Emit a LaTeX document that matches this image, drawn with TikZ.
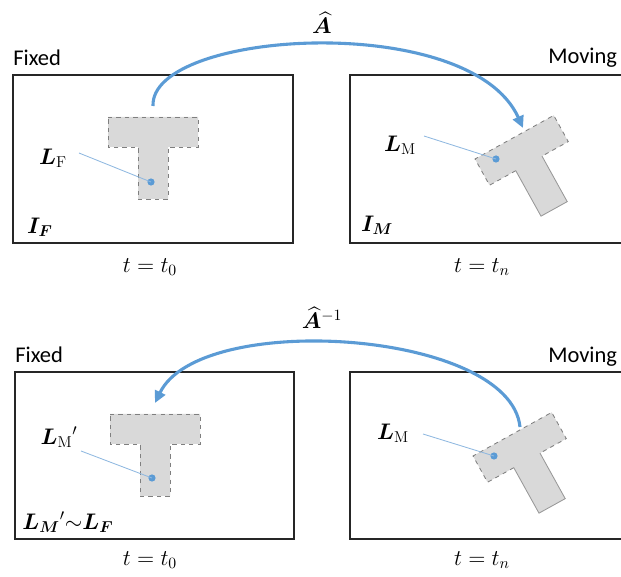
\documentclass[tikz,border=0pt]{standalone}
\usepackage{fix-cm}
\usepackage{amsmath,amssymb,bm}
\usepackage{fontspec}
\newfontfamily\labelfont{Carlito}
\usetikzlibrary{arrows.meta,positioning,calc}
\definecolor{ArcBlue}{HTML}{5B9BD5}
\definecolor{LeaderBlue}{HTML}{8FB8E0}
\definecolor{ShapeGray}{HTML}{D9D9D9}
\definecolor{EdgeGray}{HTML}{7F7F7F}
\newcommand{\fsz}{\fontsize{16}{19}\selectfont}

\tikzset{
  frame/.style={draw=black!85, line width=1.1pt, inner sep=0pt, anchor=north west},
  tshape/.style={fill=ShapeGray, draw=EdgeGray, dashed, line width=0.6pt},
  lmdot/.style={circle, fill=ArcBlue, inner sep=0pt, minimum size=1.8mm},
  leader/.style={LeaderBlue, line width=0.6pt},
  warp/.style={-{Triangle[length=3mm,width=2.8mm]}, ArcBlue, line width=2.2pt},
  tag/.style={font=\labelfont\fsz, inner sep=0pt},
  mlab/.style={font=\fsz, inner sep=0pt},
  tee/.pic={\path[tshape] (0,0) -- (90,0) -- (90,30) -- (60,30) -- (60,82)
      -- (30,82) -- (30,30) -- (0,30) -- cycle;},
  teetilt/.pic={
    \fill[ShapeGray] (0,0) -- (90,0) -- (90,30) -- (60,30) -- (60,82)
      -- (30,82) -- (30,30) -- (0,30) -- cycle;
    \draw[EdgeGray, dashed, line width=0.6pt] (30,30) -- (0,30) -- (0,0)
      -- (90,0) -- (90,30) -- (60,30);
    \draw[EdgeGray!80, line width=0.6pt] (60,30) -- (60,82) -- (30,82) -- (30,30);}
}

\begin{document}
\begin{tikzpicture}[x=0.025cm, y=-0.025cm]
  \useasboundingbox (0,0) rectangle (621,577);
  \clip (0,0) rectangle (621,577);

  % forward transform
  \node[frame, minimum width=7cm, minimum height=4.2cm] (imgF) at (12,74) {};
  \node[frame, minimum width=7.5cm, minimum height=4.2cm] (imgM) at (349,74) {};
  \node[tag, anchor=west] (fixA) at (13,58) {Fixed};
  \node[tag, anchor=west] (movA) at (548,58) {Moving};

  \pic at (108,117) {tee};
  \pic[shift={(475,159)}, rotate=29] {teetilt};

  \node[lmdot] (dotF) at (151,182) {};
  \node[lmdot] (dotM) at (496,159) {};
  \node[mlab] (lblF) at (53,158) {$\bm{L}_{\mathrm{F}}$};
  \node[mlab] (lblM) at (400,145) {$\bm{L}_{\mathrm{M}}$};
  \coordinate (legF) at (79,153);
  \coordinate (legM) at (424,136);
  \draw[leader] (legF) -- (dotF.center);
  \draw[leader] (legM) -- (dotM.center);

  \node[mlab] (imF) at (40,227) {$\bm{I}_{\bm{F}}$};
  \node[mlab] (imM) at (377,225) {$\bm{I}_{\bm{M}}$};
  \node[mlab] (tF) at (150,267) {$t=t_0$};
  \node[mlab] (tM) at (482,267) {$t=t_n$};

  \coordinate (srcA) at (153,106);
  \coordinate (dstA) at (523,128);
  \draw[warp] (srcA) .. controls (150,30) and (470,10) .. (dstA);
  \node[mlab] (hatA) at (322,23) {$\widehat{\bm{A}}$};

  % inverse transform
  \node[frame, minimum width=6.975cm, minimum height=4.175cm] (imgFb) at (14,371) {};
  \node[frame, minimum width=7.5cm, minimum height=4.175cm] (imgMb) at (349,371) {};
  \node[tag, anchor=west] (fixB) at (15,355) {Fixed};
  \node[tag, anchor=west] (movB) at (548,357) {Moving};

  \pic at (110,414) {tee};
  \pic[shift={(473,456)}, rotate=29] {teetilt};

  \node[lmdot] (dotFb) at (152,478) {};
  \node[lmdot] (dotMb) at (494,456) {};
  \node[mlab] (lblFb) at (59,437) {${\bm{L}_{\mathrm{M}}}'$};
  \node[mlab] (lblMb) at (393,433) {$\bm{L}_{\mathrm{M}}$};
  \coordinate (legFb) at (81,451);
  \coordinate (legMb) at (423,434);
  \draw[leader] (legFb) -- (dotFb.center);
  \draw[leader] (legMb) -- (dotMb.center);

  \node[mlab] (simF) at (68,522) {${\bm{L}_{\bm{M}}}'{\sim}\bm{L}_{\bm{F}}$};
  \node[mlab] (tFb) at (150,560) {$t=t_0$};
  \node[mlab] (tMb) at (482,560) {$t=t_n$};

  \coordinate (srcB) at (520,427);
  \coordinate (dstB) at (155,403);
  \draw[warp] (srcB) .. controls (510,330) and (200,310) .. (dstB);
  \node[mlab] (hatB) at (322,318) {$\widehat{\bm{A}}^{-1}$};
\end{tikzpicture}
\end{document}
